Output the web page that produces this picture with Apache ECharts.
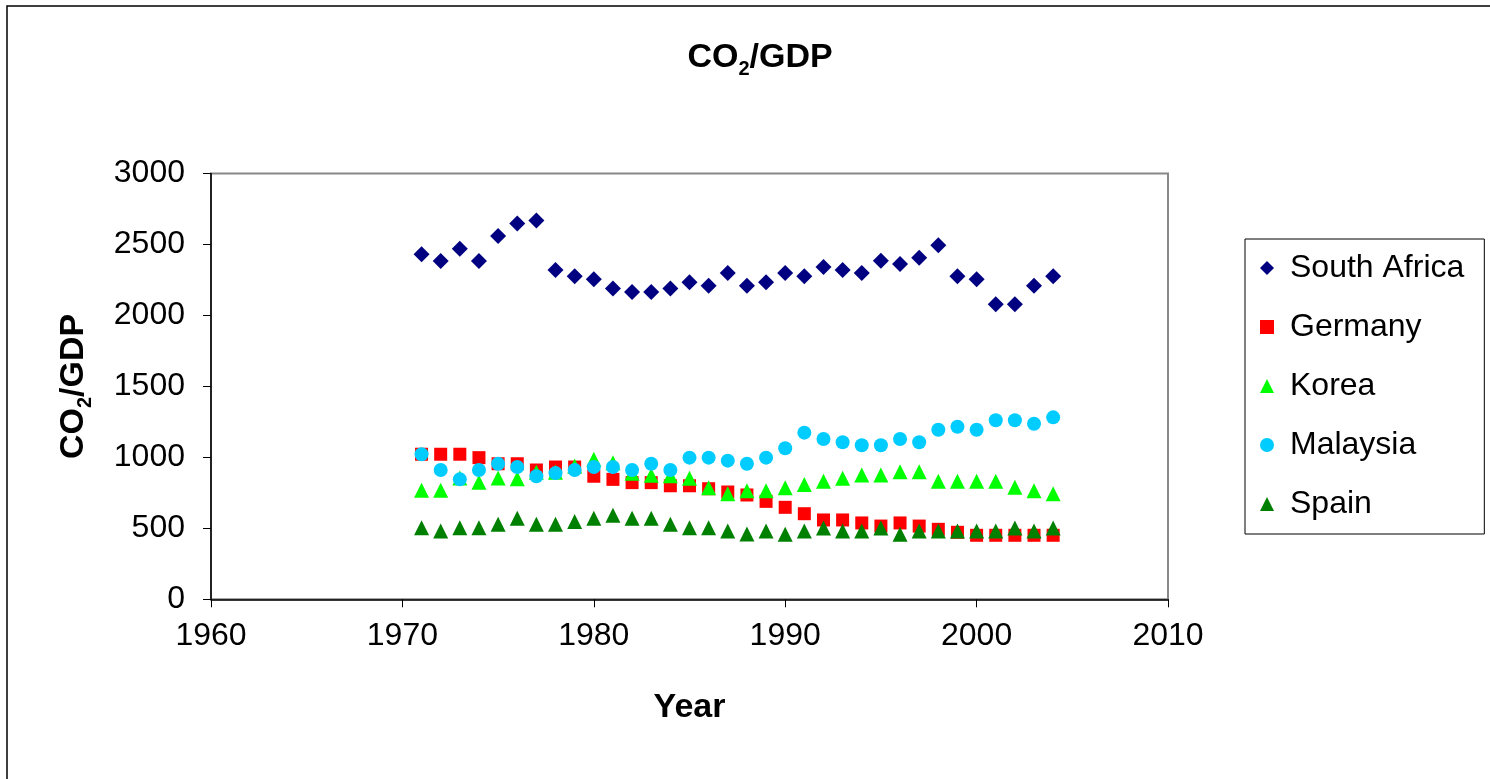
<!DOCTYPE html>
<html>
<head>
<meta charset="utf-8">
<script src="https://cdn.jsdelivr.net/npm/echarts@6/dist/echarts.min.js"></script>
<style>
  html, body { margin: 0; padding: 0; background: #fff; }
  #chart { width: 1490px; height: 779px; }
</style>
</head>
<body>
<div id="chart"></div>
<script>
// Carbon intensity of GDP by country, 1971–2004
const years = [1971,1972,1973,1974,1975,1976,1977,1978,1979,1980,1981,1982,1983,1984,1985,1986,1987,1988,1989,1990,1991,1992,1993,1994,1995,1996,1997,1998,1999,2000,2001,2002,2003,2004];

const southAfrica = [2431,2383,2470,2383,2560,2647,2668,2320,2276,2255,2189,2165,2165,2189,2234,2210,2299,2210,2234,2299,2276,2341,2320,2299,2386,2362,2407,2494,2276,2255,2078,2078,2210,2276];
const germany     = [1022,1022,1022,998,955,955,911,932,932,867,845,822,822,800,800,779,756,735,690,648,603,559,559,538,516,538,516,493,472,451,451,451,451,451];
const korea       = [768,768,855,824,855,850,895,895,939,986,962,888,874,871,852,786,744,765,765,786,808,831,852,876,876,899,899,831,831,831,831,789,765,744];
const malaysia    = [1022,911,845,911,955,932,867,889,911,932,932,911,955,911,998,998,977,955,998,1064,1174,1129,1106,1085,1085,1129,1106,1195,1216,1195,1261,1261,1237,1282];
const spain       = [504,481,504,504,528,571,528,528,549,571,592,571,571,528,504,504,481,460,481,458,481,502,481,481,502,458,481,481,481,481,481,502,481,502];

const xTicks = [1960, 2010, 10];
const yTicks = [0, 3000, 500];

const FONT = '"Liberation Sans", Arial, sans-serif';

function pairs(vals) {
  return years.map((y, i) => [y, vals[i]]);
}

const seriesDefs = [
  { name: 'South Africa', data: southAfrica, symbol: 'diamond',  size: 16, color: '#000080' },
  { name: 'Germany',      data: germany,     symbol: 'rect',     size: 13, color: '#FF0000' },
  { name: 'Korea',        data: korea,       symbol: 'triangle', size: 15, color: '#00FF00' },
  { name: 'Malaysia',     data: malaysia,    symbol: 'circle',   size: 14, color: '#00CCFF' },
  { name: 'Spain',        data: spain,       symbol: 'triangle', size: 15, color: '#008000' }
];

const nameRich = {
  b:   { fontFamily: FONT, fontWeight: 'bold', fontSize: 34, lineHeight: 42, color: '#000' },
  sub: { fontFamily: FONT, fontWeight: 'bold', fontSize: 20, lineHeight: 19, verticalAlign: 'bottom', color: '#000' }
};
const co2gdp = '{b|CO}{sub|2}{b|/GDP}';

const chart = echarts.init(document.getElementById('chart'), null, { renderer: 'canvas' });

chart.setOption({
  backgroundColor: '#fff',
  animation: false,
  graphic: [{
    type: 'rect',
    shape: { x: 7, y: 6, width: 1600, height: 900 },
    style: { fill: 'none', stroke: '#000', lineWidth: 1.5 },
    silent: true
  }],
  title: {
    text: co2gdp,
    left: 755,
    top: 32,
    textAlign: 'center',
    textStyle: { rich: nameRich }
  },
  legend: {
    orient: 'vertical',
    left: 1245,
    top: 239,
    padding: [11, 20, 12, 15],
    itemGap: 23,
    itemWidth: 14,
    itemHeight: 14,
    borderColor: '#000',
    borderWidth: 1,
    textStyle: { fontFamily: FONT, fontSize: 32, color: '#000', lineHeight: 36, padding: [0, 0, 0, 11] },
    data: seriesDefs.map(s => ({ name: s.name, icon: s.symbol }))
  },
  grid: {
    left: 211,
    right: 322,
    top: 173.5,
    bottom: 179.7,
    show: true,
    borderColor: '#888888',
    borderWidth: 2,
    backgroundColor: '#fff',
    containLabel: false
  },
  xAxis: {
    type: 'value',
    min: xTicks[0],
    max: xTicks[1],
    interval: xTicks[2],
    name: 'Year',
    nameLocation: 'middle',
    nameGap: 91,
    nameTextStyle: { fontFamily: FONT, fontWeight: 'bold', fontSize: 34, color: '#000' },
    axisLine: { show: true, onZero: false, lineStyle: { color: '#000', width: 1.5 } },
    axisTick: { show: true, inside: false, length: 8, lineStyle: { color: '#000', width: 1 } },
    axisLabel: { fontFamily: FONT, fontSize: 32, color: '#000', margin: 21, formatter: v => String(v) },
    splitLine: { show: false }
  },
  yAxis: {
    type: 'value',
    min: yTicks[0],
    max: yTicks[1],
    interval: yTicks[2],
    name: co2gdp,
    nameLocation: 'middle',
    nameRotate: 90,
    nameGap: 116,
    nameTextStyle: { rich: nameRich },
    axisLine: { show: true, lineStyle: { color: '#000', width: 1.5 } },
    axisTick: { show: true, inside: false, length: 8, lineStyle: { color: '#000', width: 1 } },
    axisLabel: { fontFamily: FONT, fontSize: 32, color: '#000', margin: 26, formatter: v => String(v) },
    splitLine: { show: false }
  },
  series: seriesDefs.map(s => ({
    name: s.name,
    type: 'scatter',
    symbol: s.symbol,
    symbolSize: s.size,
    itemStyle: { color: s.color, opacity: 1 },
    data: pairs(s.data)
  }))
});
</script>
</body>
</html>
